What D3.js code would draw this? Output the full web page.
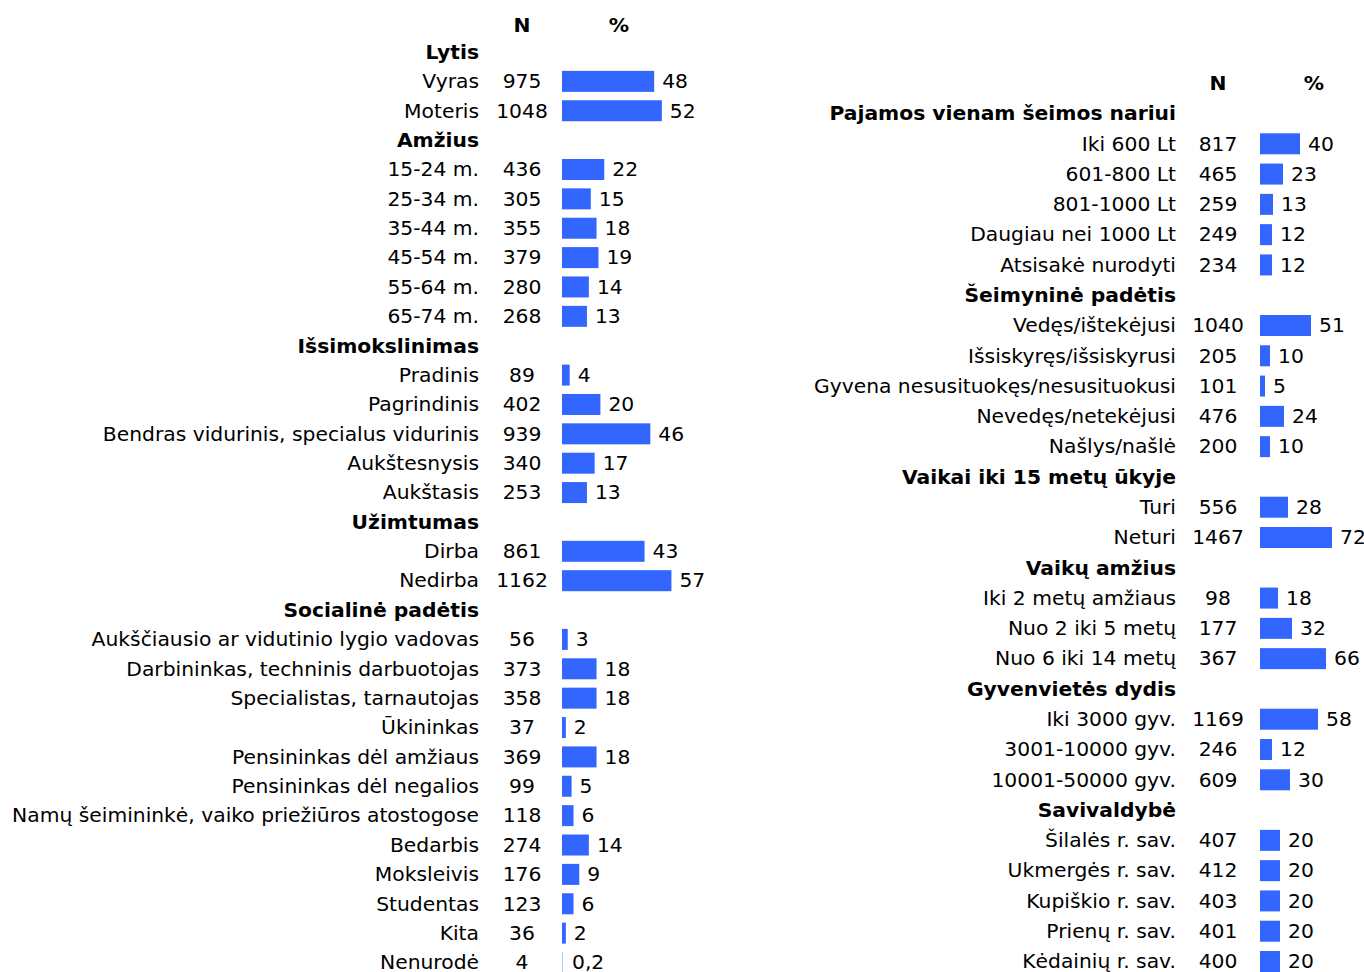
<!DOCTYPE html>
<html>
<head>
<meta charset="utf-8">
<script src="https://cdn.jsdelivr.net/npm/d3@7"></script>
<style>
  body { margin: 0; background: #fff; }
  svg text { font-family: "DejaVu Sans", Verdana, sans-serif; fill: #000; }
</style>
</head>
<body>
<svg id="chart" width="1364" height="972"></svg>
<script>
// Left panel rows (headers have null values)
const leftLabels = [
  "Lytis", "Vyras", "Moteris",
  "Amžius", "15-24 m.", "25-34 m.", "35-44 m.", "45-54 m.", "55-64 m.", "65-74 m.",
  "Išsimokslinimas", "Pradinis", "Pagrindinis", "Bendras vidurinis, specialus vidurinis", "Aukštesnysis", "Aukštasis",
  "Užimtumas", "Dirba", "Nedirba",
  "Socialinė padėtis", "Aukščiausio ar vidutinio lygio vadovas", "Darbininkas, techninis darbuotojas",
  "Specialistas, tarnautojas", "Ūkininkas", "Pensininkas dėl amžiaus", "Pensininkas dėl negalios",
  "Namų šeimininkė, vaiko priežiūros atostogose", "Bedarbis", "Moksleivis", "Studentas", "Kita", "Nenurodė"
];
const leftN = [
  null, 975, 1048,
  null, 436, 305, 355, 379, 280, 268,
  null, 89, 402, 939, 340, 253,
  null, 861, 1162,
  null, 56, 373, 358, 37, 369, 99, 118, 274, 176, 123, 36, 4
];
const leftPct = [
  null, 48, 52,
  null, 22, 15, 18, 19, 14, 13,
  null, 4, 20, 46, 17, 13,
  null, 43, 57,
  null, 3, 18, 18, 2, 18, 5, 6, 14, 9, 6, 2, 0.2
];

// Right panel rows
const rightLabels = [
  "Pajamos vienam šeimos nariui", "Iki 600 Lt", "601-800 Lt", "801-1000 Lt", "Daugiau nei 1000 Lt", "Atsisakė nurodyti",
  "Šeimyninė padėtis", "Vedęs/ištekėjusi", "Išsiskyręs/išsiskyrusi", "Gyvena nesusituokęs/nesusituokusi", "Nevedęs/netekėjusi", "Našlys/našlė",
  "Vaikai iki 15 metų ūkyje", "Turi", "Neturi",
  "Vaikų amžius", "Iki 2 metų amžiaus", "Nuo 2 iki 5 metų", "Nuo 6 iki 14 metų",
  "Gyvenvietės dydis", "Iki 3000 gyv.", "3001-10000 gyv.", "10001-50000 gyv.",
  "Savivaldybė", "Šilalės r. sav.", "Ukmergės r. sav.", "Kupiškio r. sav.", "Prienų r. sav.", "Kėdainių r. sav."
];
const rightN = [
  null, 817, 465, 259, 249, 234,
  null, 1040, 205, 101, 476, 200,
  null, 556, 1467,
  null, 98, 177, 367,
  null, 1169, 246, 609,
  null, 407, 412, 403, 401, 400
];
const rightPct = [
  null, 40, 23, 13, 12, 12,
  null, 51, 10, 5, 24, 10,
  null, 28, 72,
  null, 18, 32, 66,
  null, 58, 12, 30,
  null, 20, 20, 20, 20, 20
];

const columnHeaders = ["N", "%"];

const svg = d3.select("#chart");
const fs = 20.3;
const fmt = v => (Number.isInteger(v) ? String(v) : String(v).replace(".", ","));

function drawPanel(cfg) {
  const { labels, nVals, pcts, labelRight, nCenter, barX, pxPerPct, headerY, firstY, lastY, pctHeaderX } = cfg;
  const g = svg.append("g");

  const y = d3.scaleLinear().domain([0, labels.length - 1]).range([firstY, lastY]);
  const x = d3.scaleLinear().domain([0, 100]).range([barX, barX + pxPerPct * 100]);

  // column headers
  g.selectAll(".hdr").data(columnHeaders).enter().append("text")
    .attr("x", (d, i) => i === 0 ? nCenter : pctHeaderX).attr("y", headerY).attr("dy", "0.36em")
    .attr("text-anchor", "middle").attr("font-weight", "bold").attr("font-size", fs)
    .text(d => d);

  const rows = labels.map((l, i) => ({ label: l, n: nVals[i], pct: pcts[i], i }));

  g.selectAll(".lbl").data(rows).enter().append("text")
    .attr("x", labelRight).attr("y", d => y(d.i)).attr("dy", "0.36em")
    .attr("text-anchor", "end")
    .attr("font-size", fs)
    .attr("font-weight", d => d.n === null ? "bold" : "normal")
    .text(d => d.label);

  const data = rows.filter(d => d.n !== null);

  g.selectAll(".n").data(data).enter().append("text")
    .attr("x", nCenter).attr("y", d => y(d.i)).attr("dy", "0.36em")
    .attr("text-anchor", "middle").attr("font-size", fs)
    .text(d => d.n);

  g.selectAll("rect").data(data).enter().append("rect")
    .attr("x", x(0)).attr("y", d => y(d.i) - 10)
    .attr("width", d => x(d.pct) - x(0)).attr("height", 21)
    .attr("fill", "#3366ff");

  g.selectAll(".v").data(data).enter().append("text")
    .attr("x", d => Math.max(x(d.pct), x(0) + 2) + 8).attr("y", d => y(d.i)).attr("dy", "0.36em")
    .attr("font-size", fs)
    .text(d => fmt(d.pct));
}

drawPanel({
  labels: leftLabels, nVals: leftN, pcts: leftPct,
  labelRight: 479, nCenter: 522, barX: 562, pxPerPct: 1.92,
  headerY: 25, firstY: 51.5, lastY: 962, pctHeaderX: 619
});

drawPanel({
  labels: rightLabels, nVals: rightN, pcts: rightPct,
  labelRight: 1176, nCenter: 1218, barX: 1260, pxPerPct: 1,
  headerY: 83, firstY: 113, lastY: 961, pctHeaderX: 1314
});
</script>
</body>
</html>
